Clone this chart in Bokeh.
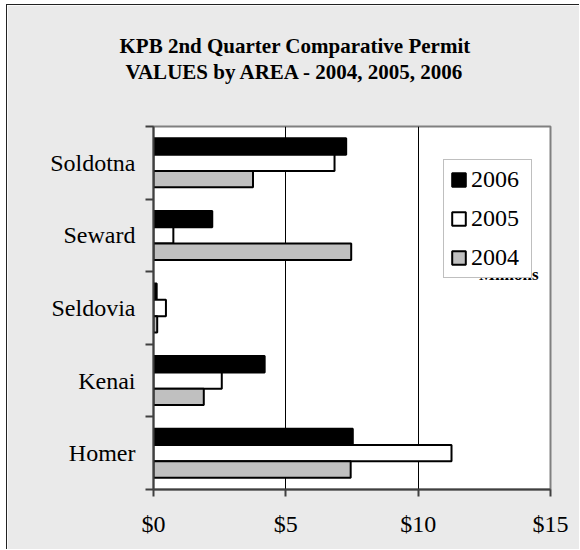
import numpy as np
from bokeh.plotting import figure
from bokeh.models import (Range1d, FixedTicker, PrintfTickFormatter, Legend, LegendItem,
                          Label, Title, ColumnDataSource)
from bokeh.embed import file_html
from bokeh.resources import INLINE

# ---- data (values in millions of dollars) ----
areas = ["Homer", "Kenai", "Seldovia", "Seward", "Soldotna"]   # bottom to top
v2006 = [7.53, 4.20, 0.12, 2.22, 7.28]
v2005 = [11.26, 2.58, 0.47, 0.75, 6.84]
v2004 = [7.45, 1.90, 0.14, 7.47, 3.76]
years = ["2006", "2005", "2004"]
x_ticks = [0, 5, 10, 15]
title_lines = ["KPB 2nd Quarter Comparative Permit", "VALUES by AREA - 2004, 2005, 2006"]

FONT = "'Liberation Serif', serif"
BG = "#EAEAEA"
W, H = 573, 545

p = figure(width=W, height=H, output_backend="svg", toolbar_location=None,
           x_range=Range1d(0, 15), y_range=Range1d(0, len(areas)),
           min_border_left=146, min_border_right=30, min_border_top=121, min_border_bottom=61)
p.styles = {"margin-left": "6px", "margin-top": "4px",
            "border-left": "1px solid #222222", "border-top": "1px solid #222222"}
p.background_fill_color = "white"
p.border_fill_color = BG
p.outline_line_color = "#808080"
p.outline_line_width = 2

base = np.arange(len(areas)) + 0.5
bh = 0.225
series = [(v2006, "black", 0.225), (v2005, "white", 0.0), (v2004, "#C0C0C0", -0.225)]
renderers = []
for vals, col, off in series:
    src = ColumnDataSource(dict(y=base + off, right=vals))
    r = p.hbar(y="y", right="right", left=0, height=bh, source=src,
               fill_color=col, line_color="black", line_width=2)
    renderers.append(r)

# x axis
xa = p.xaxis[0]
xa.ticker = FixedTicker(ticks=x_ticks)
xa.formatter = PrintfTickFormatter(format="$%d")
xa.major_label_text_font = FONT
xa.major_label_text_font_size = "24px"
xa.major_label_text_color = "black"
xa.major_tick_out = 7
xa.major_tick_in = 0
xa.minor_tick_out = 0
xa.minor_tick_in = 0
xa.major_label_standoff = 14
xa.axis_line_color = "#404040"
xa.axis_line_width = 2
xa.major_tick_line_color = "#404040"
xa.major_tick_line_width = 2

# y axis: labels at centres, tick marks at boundaries (minor ticks)
ya = p.yaxis[0]
ya.ticker = FixedTicker(ticks=list(base), minor_ticks=list(range(len(areas) + 1)))
ya.major_label_overrides = {float(b): a for b, a in zip(base, areas)}
ya.major_label_text_font = FONT
ya.major_label_text_font_size = "24px"
ya.major_label_text_color = "black"
ya.major_tick_out = 0
ya.major_tick_in = 0
ya.minor_tick_out = 8
ya.minor_tick_in = 0
ya.minor_tick_line_color = "#404040"
ya.minor_tick_line_width = 2
ya.major_label_standoff = 10
ya.axis_line_color = "#404040"
ya.axis_line_width = 2

p.xgrid.grid_line_color = "black"
p.xgrid.grid_line_width = 1
p.ygrid.grid_line_color = None

# titles: spacer (background-coloured) nearest the plot, then line 2, then line 1
p.add_layout(Title(text=".", standoff=27, text_font=FONT, text_font_size="21px",
                   text_color=BG), "above")
for t, off in [(title_lines[1], -28), (title_lines[0], -34)]:
    p.add_layout(Title(text=t, align="left", offset=off, standoff=0, text_font=FONT,
                       text_font_size="21px", text_font_style="bold", text_color="black"),
                 "above")

# axis unit label (partly hidden by legend)
p.add_layout(Label(x=530, y=268, x_units="canvas", y_units="canvas", text="Millions",
                   text_align="right", text_baseline="alphabetic", text_font=FONT,
                   text_font_size="17px", text_font_style="bold", text_color="black"))

legend = Legend(items=[LegendItem(label=y, renderers=[r]) for y, r in zip(years, renderers)],
                location=(290, 211), orientation="vertical")
legend.label_text_font = FONT
legend.label_text_font_size = "24px"
legend.label_text_color = "black"
legend.glyph_width = 17
legend.glyph_height = 17
legend.label_standoff = 4
legend.padding = 6
legend.spacing = 12
legend.margin = 0
legend.label_width = 54
legend.border_line_color = "#808080"
legend.border_line_width = 1
legend.background_fill_color = "white"
legend.background_fill_alpha = 1
p.add_layout(legend)

open("out.html", "w").write(file_html(p, INLINE))
